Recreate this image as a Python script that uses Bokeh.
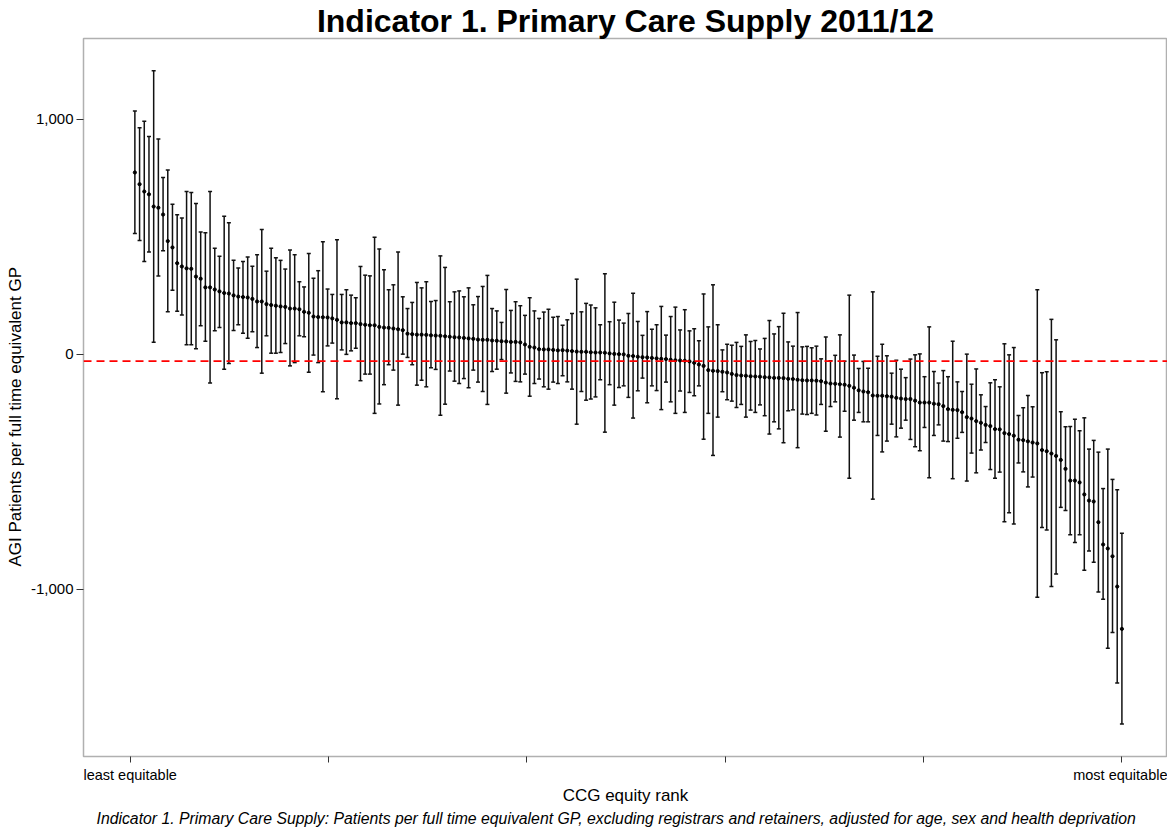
from bokeh.plotting import figure
from bokeh.models import (Span, FixedTicker, NumeralTickFormatter, Range1d, Title,
                          ColumnDataSource, CustomJSTickFormatter)
from bokeh.embed import file_html
from bokeh.resources import INLINE

# ---------------- data ----------------
agi = [773, 723, 692, 680, 628, 623, 594, 481, 454, 387,
       373, 365, 363, 330, 321, 284, 284, 275, 267, 260,
       258, 250, 245, 243, 241, 235, 224, 224, 213, 209,
       206, 203, 201, 194, 194, 191, 180, 176, 160, 158,
       157, 156, 152, 146, 135, 135, 132, 132, 128, 125,
       123, 123, 116, 113, 112, 109, 106, 102, 87, 85,
       83, 83, 82, 80, 79, 78, 76, 74, 72, 71,
       69, 67, 65, 62, 61, 61, 58, 57, 55, 54,
       52, 52, 50, 41, 31, 28, 21, 20, 20, 18,
       16, 17, 15, 13, 11, 10, 10, 8, 7, 7,
       6, 3, 1, 0, -1, -7, -8, -11, -13, -14,
       -16, -18, -20, -21, -24, -26, -27, -28, -31, -37,
       -44, -50, -68, -71, -72, -75, -78, -84, -89, -91,
       -92, -94, -95, -96, -98, -99, -101, -101, -102, -105,
       -106, -109, -111, -112, -112, -113, -115, -121, -125, -126,
       -128, -130, -135, -143, -154, -159, -162, -176, -177, -177,
       -179, -181, -186, -189, -191, -191, -198, -206, -206, -206,
       -211, -213, -221, -234, -237, -238, -247, -268, -274, -285,
       -292, -301, -306, -319, -320, -336, -340, -347, -364, -366,
       -371, -376, -380, -408, -413, -423, -433, -450, -488, -538,
       -538, -546, -597, -623, -627, -715, -810, -827, -860, -989,
       -1169]

lower = [513, 484, 394, 435, 51, 332, 440, 180, 272, 182,
         166, 40, 40, 23, 121, 55, -123, 99, 113, -64,
         -40, 101, 125, 89, 68, 95, 28, -81, 78, 4,
         4, 7, 45, -50, -36, 78, 74, -77, -4, -36,
         -160, 35, 47, -190, 18, -1, 14, 25, -113, -85,
         -85, -252, -212, -130, -45, -68, -217, 0, -14, -45,
         -132, -111, -139, -58, -65, -260, -213, -72, -115, -125,
         -104, -143, -68, -119, -159, -214, -74, -64, -23, -166,
         -80, -116, -118, -85, -179, -125, -106, -139, -149, -119,
         -125, -92, -118, -149, -298, -159, -196, -191, -182, -109,
         -332, -130, -217, -142, -135, -184, -272, -156, -102, -207,
         -135, -155, -236, -119, -203, -252, -157, -248, -163, -177,
         -135, -362, -252, -431, -268, -160, -194, -200, -227, -214,
         -268, -238, -248, -216, -262, -340, -288, -318, -377, -241,
         -237, -398, -255, -257, -252, -259, -214, -328, -223, -203,
         -353, -243, -528, -281, -248, -288, -288, -617, -346, -416,
         -370, -298, -352, -315, -281, -363, -394, -411, -312, -526,
         -346, -301, -370, -372, -530, -358, -333, -540, -421, -505,
         -408, -376, -491, -528, -502, -713, -675, -723, -463, -501,
         -565, -523, -1034, -738, -748, -989, -935, -652, -665, -769,
         -801, -769, -920, -838, -885, -1012, -1043, -1251, -1184, -1399,
         -1574]

upper = [1035, 963, 991, 926, 1206, 915, 752, 783, 638, 593,
         579, 692, 688, 641, 520, 516, 692, 451, 417, 587,
         559, 399, 366, 394, 413, 374, 423, 530, 353, 451,
         410, 399, 362, 443, 423, 308, 286, 428, 323, 355,
         478, 277, 254, 487, 254, 274, 251, 240, 373, 336,
         333, 497, 447, 359, 274, 295, 435, 244, 194, 220,
         305, 282, 308, 224, 228, 418, 369, 223, 265, 269,
         244, 282, 210, 245, 288, 335, 194, 184, 135, 275,
         186, 223, 206, 165, 240, 184, 152, 179, 191, 157,
         160, 123, 146, 173, 319, 180, 216, 209, 197, 125,
         342, 138, 221, 145, 132, 173, 259, 139, 80, 181,
         106, 125, 203, 81, 160, 200, 103, 189, 99, 108,
         57, 256, 116, 295, 125, 18, 42, 38, 50, 33,
         82, 54, 58, 22, 67, 143, 86, 117, 174, 52,
         34, 177, 31, 33, 27, 34, -20, 73, -28, -5,
         82, -30, 251, -4, -61, -31, -60, 265, -9, 42,
         -7, -81, -26, -64, -100, -21, -3, 1, -96, 116,
         -74, -123, -70, -96, 55, -118, -159, 0, -128, -63,
         -173, -223, -122, -109, -139, 44, -3, 28, -261, -228,
         -176, -224, 274, -79, -75, 148, 61, -245, -309, -308,
         -277, -326, -271, -404, -367, -417, -572, -404, -533, -577,
         -762]

ranks = list(range(1, len(agi) + 1))
reference_line = -30
y_ticks = [-1000, 0, 1000]
x_tick_labels = ["least equitable", "", "", "", "", "most equitable"]

title_text = "Indicator 1. Primary Care Supply 2011/12"
y_title = "AGI Patients per full time equivalent GP"
x_title = "CCG equity rank"
caption = ("Indicator 1. Primary Care Supply: Patients per full time equivalent GP, "
           "excluding registrars and retainers, adjusted for age, sex and health deprivation")

FONT = "Liberation Sans"

# ---------------- figure ----------------
n = len(agi)
x_ticks = [n * i / 5 for i in range(6)]

p = figure(frame_width=1084, frame_height=718,
           x_range=Range1d(-9.93, 220.7), y_range=Range1d(-1712, 1343),
           output_backend="svg", toolbar_location=None,
           min_border_left=76, min_border_right=0, min_border_top=31, min_border_bottom=0)

p.title.text = title_text
p.title.align = "center"
p.title.text_font = FONT
p.title.text_font_size = "32px"
p.title.text_font_style = "bold"
p.title.text_color = "black"
p.title.standoff = 0

p.background_fill_color = "white"
p.border_fill_color = "white"
p.outline_line_color = "#b0b0b0"
p.outline_line_width = 1.5
p.xgrid.visible = False
p.ygrid.visible = False

src = ColumnDataSource(dict(x=ranks, y=agi, lo=lower, hi=upper))

p.segment(x0="x", y0="lo", x1="x", y1="hi", source=src, line_color="#111111", line_width=1.5)
p.scatter(x="x", y="lo", source=src, marker="dash", size=4, line_color="#111111", line_width=1.5)
p.scatter(x="x", y="hi", source=src, marker="dash", size=4, line_color="#111111", line_width=1.5)
p.scatter(x="x", y="y", source=src, marker="circle", size=3.2, color="black")

p.add_layout(Span(location=reference_line, dimension="width", line_color="red",
                  line_dash="8 5", line_width=1.8))

# y axis
ya = p.yaxis[0]
ya.ticker = FixedTicker(ticks=y_ticks)
ya.formatter = NumeralTickFormatter(format="0,0")
ya.major_label_text_font = FONT
ya.major_label_text_font_size = "15px"
ya.major_label_text_color = "black"
ya.major_tick_out = 7
ya.major_tick_in = 0
ya.major_tick_line_color = "#333333"
ya.minor_tick_line_color = None
ya.axis_line_color = None
ya.major_label_standoff = 3

ytitle = Title(text=y_title, align="left", offset=190, text_font=FONT,
               text_font_size="17px", text_font_style="normal", text_color="black",
               standoff=6)
p.add_layout(ytitle, "left")

# x axis
xa = p.xaxis[0]
xa.ticker = FixedTicker(ticks=x_ticks)
xa.formatter = CustomJSTickFormatter(args=dict(labels=x_tick_labels),
                                     code="return labels[index];")
xa.major_label_text_font = FONT
xa.major_label_text_font_size = "14.5px"
xa.major_label_text_color = "black"
xa.major_tick_out = 6
xa.major_tick_in = 0
xa.major_tick_line_color = "#333333"
xa.minor_tick_line_color = None
xa.axis_line_color = None
xa.major_label_standoff = 4
xa.axis_label = x_title
xa.axis_label_text_font = FONT
xa.axis_label_text_font_size = "17px"
xa.axis_label_text_font_style = "normal"
xa.axis_label_text_color = "black"
xa.axis_label_standoff = 0

cap = Title(text=caption, align="left", offset=13, text_font=FONT, text_font_size="15.8px",
            text_font_style="italic", text_color="black", standoff=1)
p.add_layout(cap, "below")

open("out.html", "w").write(file_html(p, INLINE))
